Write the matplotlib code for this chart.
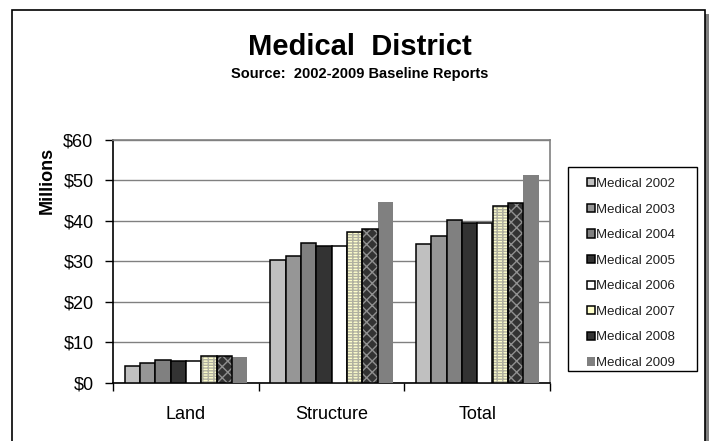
import matplotlib
matplotlib.use("Agg")
import matplotlib.pyplot as plt
from matplotlib.patches import Rectangle
from matplotlib.legend_handler import HandlerPatch
from matplotlib.ticker import FuncFormatter, FixedLocator
import numpy as np

plt.rcParams['font.family'] = ['Liberation Sans', 'DejaVu Sans']

categories = ["Land", "Structure", "Total"]
series_names = ["Medical 2002", "Medical 2003", "Medical 2004", "Medical 2005",
                "Medical 2006", "Medical 2007", "Medical 2008", "Medical 2009"]
land = [4.1, 4.9, 5.6, 5.4, 5.3, 6.5, 6.5, 6.4]
structure = [30.3, 31.4, 34.6, 33.8, 33.8, 37.2, 38.1, 44.6]
total = [34.3, 36.3, 40.1, 39.4, 39.4, 43.7, 44.5, 51.3]
y_ticks = [0, 10, 20, 30, 40, 50, 60]

# fill, edge, hatch pattern, hatch colour for each year
styles = [
    ("#C0C0C0", "black", None, None),
    ("#969696", "black", None, None),
    ("#808080", "black", None, None),
    ("#333333", "black", None, None),
    ("#FFFFFF", "black", None, None),
    ("#FFFFCC", "black", "------|||", "#B0B0A0"),
    ("#333333", "black", "xxx", "#909090"),
    ("#808080", "none", None, None),
]

values = np.array([land, structure, total]).T  # rows: years

W, H = 711.0, 441.0
fig = plt.figure(figsize=(W / 100, H / 100), dpi=100)
fig.patch.set_facecolor("white")

# outer chart frame with a drop shadow on the right
fig.patches.append(Rectangle((705 / W, 0), 4 / W, (H - 14) / H, transform=fig.transFigure,
                             facecolor="#808080", edgecolor="none", zorder=0))
fig.patches.append(Rectangle((12 / W, -0.05), (705 - 12) / W, (H - 10) / H + 0.05,
                             transform=fig.transFigure, facecolor="white",
                             edgecolor="black", linewidth=1.2, zorder=1))

ax = fig.add_axes([113 / W, 1 - 382.7 / H, (550 - 113) / W, (382.7 - 140) / H])
ax.set_zorder(2)
ax.set_facecolor("white")

n = len(series_names)
w = 1.0 / (n + 1.5)
x = np.arange(len(categories))
handles = []
for i, (name, (fc, ec, hatch, hc)) in enumerate(zip(series_names, styles)):
    pos = x + (i - (n - 1) / 2) * w
    lw = 1.1 if ec != "none" else 0
    if hatch:
        # patterned fill first, then the black outline on top
        ax.bar(pos, values[i], width=w, facecolor=fc, edgecolor=hc, hatch=hatch,
               linewidth=0, zorder=3)
        ax.bar(pos, values[i], width=w, facecolor="none", edgecolor=ec,
               linewidth=lw, zorder=4)
    else:
        ax.bar(pos, values[i], width=w, facecolor=fc, edgecolor=ec,
               linewidth=lw, zorder=3)
    handles.append(Rectangle((0, 0), 1, 1, facecolor=fc, edgecolor=ec, linewidth=lw))

ax.set_xlim(-0.5, len(categories) - 0.5)
ax.set_ylim(0, 60)
ax.set_yticks(y_ticks)
ax.yaxis.set_major_formatter(FuncFormatter(lambda v, p: f"${v:.0f}"))
ax.grid(axis="y", color="#808080", linewidth=1.0, zorder=1)
ax.set_axisbelow(True)

ax.xaxis.set_major_locator(FixedLocator([-0.5, 0.5, 1.5, 2.5]))
ax.xaxis.set_major_formatter(FuncFormatter(lambda v, p: ""))
ax.xaxis.set_minor_locator(FixedLocator(list(x)))
ax.set_xticklabels(categories, minor=True)
ax.tick_params(axis="x", which="minor", length=0, pad=17, labelsize=13)
ax.tick_params(axis="x", which="major", length=6, width=1, color="black", direction="out")
ax.tick_params(axis="y", length=6, width=1, direction="out", labelsize=13, pad=8)

for side in ("top", "right"):
    ax.spines[side].set_color("#808080")
    ax.spines[side].set_linewidth(1.2)
for side in ("left", "bottom"):
    ax.spines[side].set_color("black")
    ax.spines[side].set_linewidth(1.2)

fig.text(360 / W, 1 - 47 / H, "Medical  District", ha="center", va="center",
         fontsize=21, fontweight="bold")
fig.text(360 / W, 1 - 74 / H, "Source:  2002-2009 Baseline Reports", ha="center",
         va="center", fontsize=10.5, fontweight="bold")
fig.text(47 / W, 1 - 180 / H, "Millions", ha="center", va="center", rotation=90,
         fontsize=13, fontweight="bold")

# legend box
fig.patches.append(Rectangle((568 / W, 1 - 371 / H), (697 - 568) / W, (371 - 167) / H,
                             transform=fig.transFigure, facecolor="white",
                             edgecolor="black", linewidth=1.0, zorder=3))


def square_at_right(legend, orig_handle, xdescent, ydescent, width, height, fontsize):
    s = height * 0.95
    return Rectangle((-xdescent + width - s, -ydescent + (height - s) / 2), s, s)


leg = fig.legend(handles, series_names, loc="upper left",
                 bbox_to_anchor=(568 / W, 1 - 167 / H), fontsize=9.5,
                 frameon=False, handlelength=1.22, handleheight=0.62,
                 handletextpad=0.1, labelspacing=1.03, borderpad=0.83,
                 borderaxespad=0,
                 handler_map={Rectangle: HandlerPatch(patch_func=square_at_right)})
leg.set_zorder(5)
for t in leg.get_texts():
    t.set_color("#202020")

fig.savefig("out.png", dpi=100, facecolor="white")
